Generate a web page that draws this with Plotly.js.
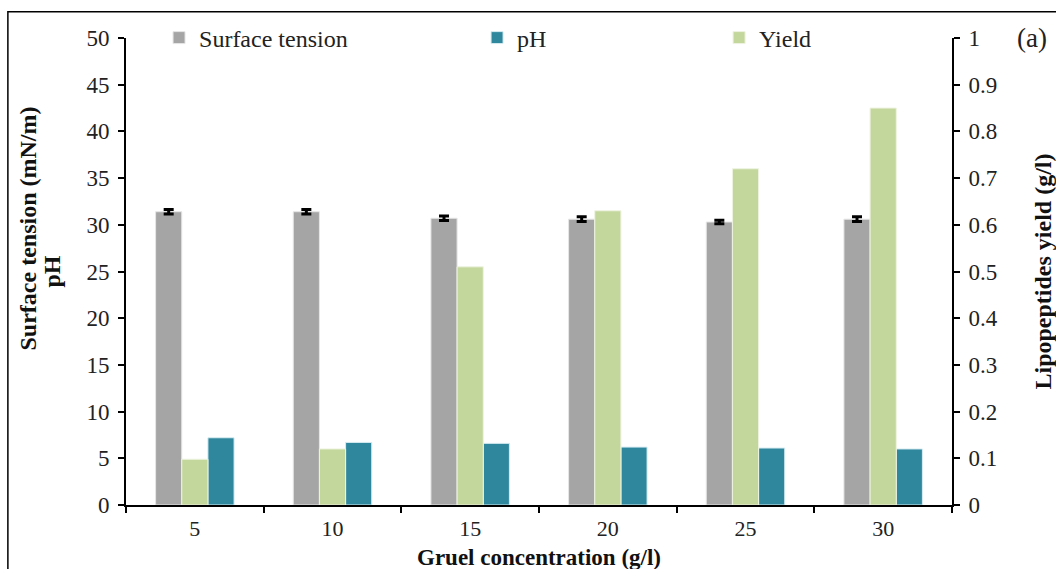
<!DOCTYPE html>
<html>
<head>
<meta charset="utf-8">
<script src="https://cdn.plot.ly/plotly-3.0.1.min.js"></script>
<style>html,body{margin:0;padding:0;background:#fff;}#chart{width:1056px;height:569px;}</style>
</head>
<body>
<div id="chart"></div>
<script>
var categories = ["5", "10", "15", "20", "25", "30"];
var surfaceTension = [31.4, 31.4, 30.7, 30.6, 30.3, 30.6];
var surfaceTensionErr = [0.25, 0.25, 0.25, 0.25, 0.2, 0.25];
var pH = [7.2, 6.7, 6.6, 6.2, 6.1, 6.0];
var yieldValues = [0.098, 0.12, 0.51, 0.63, 0.72, 0.85];

var serif = "Liberation Serif";

var traces = [
  {
    type: "bar", name: "Surface tension", x: categories, y: surfaceTension,
    xaxis: "x", yaxis: "y", offsetgroup: "1", legend: "legend", legendrank: 1,
    marker: {color: "#a5a5a5", line: {color: "#e6e6e6", width: 1}},
    error_y: {type: "data", array: surfaceTensionErr, visible: true, color: "#000", thickness: 3, width: 5}
  },
  {
    type: "bar", name: "Yield", x: categories, y: yieldValues,
    xaxis: "x", yaxis: "y2", offsetgroup: "2", legend: "legend3", legendrank: 3,
    marker: {color: "#c3d69b", line: {color: "#eef3e0", width: 1}}
  },
  {
    type: "bar", name: "pH", x: categories, y: pH,
    xaxis: "x", yaxis: "y", offsetgroup: "3", legend: "legend2", legendrank: 2,
    marker: {color: "#2f879e", line: {color: "#d8ecf2", width: 1}}
  }
];

var legendBase = function (x) {
  return {x: x, y: 1.0, xref: "paper", yref: "paper", xanchor: "left", yanchor: "middle",
    orientation: "h", bgcolor: "rgba(0,0,0,0)", font: {family: serif, size: 24, color: "#222"},
    itemwidth: 30};
};

var titleFont = {family: serif, size: 24, color: "#111"};

var layout = {
  width: 1056, height: 569,
  margin: {l: 126, r: 104, t: 38, b: 64},
  paper_bgcolor: "#fff", plot_bgcolor: "#fff",
  font: {family: serif},
  barmode: "group", bargap: 0.43, bargroupgap: 0.0,
  showlegend: true,
  legend: legendBase(0.04),
  legend2: legendBase(0.425),
  legend3: legendBase(0.718),
  xaxis: {
    type: "category", showline: true, linecolor: "#000", linewidth: 2,
    ticks: "outside", tickson: "boundaries", ticklen: 6, tickwidth: 2, tickcolor: "#000",
    ticklabelstandoff: 3,
    tickfont: {family: serif, size: 22, color: "#222"},
    showgrid: false, zeroline: false
  },
  yaxis: {
    range: [0, 50], dtick: 5, showline: true, linecolor: "#000", linewidth: 2,
    ticks: "outside", ticklen: 6, tickwidth: 2, tickcolor: "#000",
    ticklabelstandoff: 4,
    tickfont: {family: serif, size: 23, color: "#222"},
    showgrid: false, zeroline: false
  },
  yaxis2: {
    range: [0, 1], dtick: 0.1, overlaying: "y", side: "right", showline: true, linecolor: "#000", linewidth: 2,
    ticks: "outside", ticklen: 6, tickwidth: 2, tickcolor: "#000",
    ticklabelstandoff: 4,
    tickfont: {family: serif, size: 23, color: "#222"},
    title: {text: "<b>Lipopeptides yield (g/l)</b>", font: titleFont, standoff: 40},
    showgrid: false, zeroline: false
  },
  annotations: [
    {text: "<b>Gruel concentration (g/l)</b>", xref: "paper", yref: "paper", x: 0.5, y: 0, yshift: -52,
     showarrow: false, xanchor: "center", yanchor: "middle", font: {family: serif, size: 23, color: "#111"}},
    {text: "<b>Surface tension (mN/m)</b>", xref: "paper", yref: "paper", x: 0, y: 0.5, xshift: -99, yshift: 43,
     textangle: -90, showarrow: false, xanchor: "center", yanchor: "middle", font: titleFont},
    {text: "<b>pH</b>", xref: "paper", yref: "paper", x: 0, y: 0.5, xshift: -75, yshift: 0,
     textangle: -90, showarrow: false, xanchor: "center", yanchor: "middle", font: titleFont},
    {text: "(a)", xref: "paper", yref: "paper", x: 1.0, y: 1.0, xshift: 80, yanchor: "middle", xanchor: "center",
     showarrow: false, font: {family: serif, size: 27, color: "#222"}}
  ],
  shapes: [
    {type: "rect", xref: "paper", yref: "paper", x0: -0.143, x1: 1.3, y0: -0.3, y1: 1.056,
     line: {color: "#000", width: 1.5}, fillcolor: "rgba(0,0,0,0)", layer: "below"}
  ]
};

Plotly.newPlot("chart", traces, layout, {displayModeBar: false, staticPlot: true});
</script>
</body>
</html>
